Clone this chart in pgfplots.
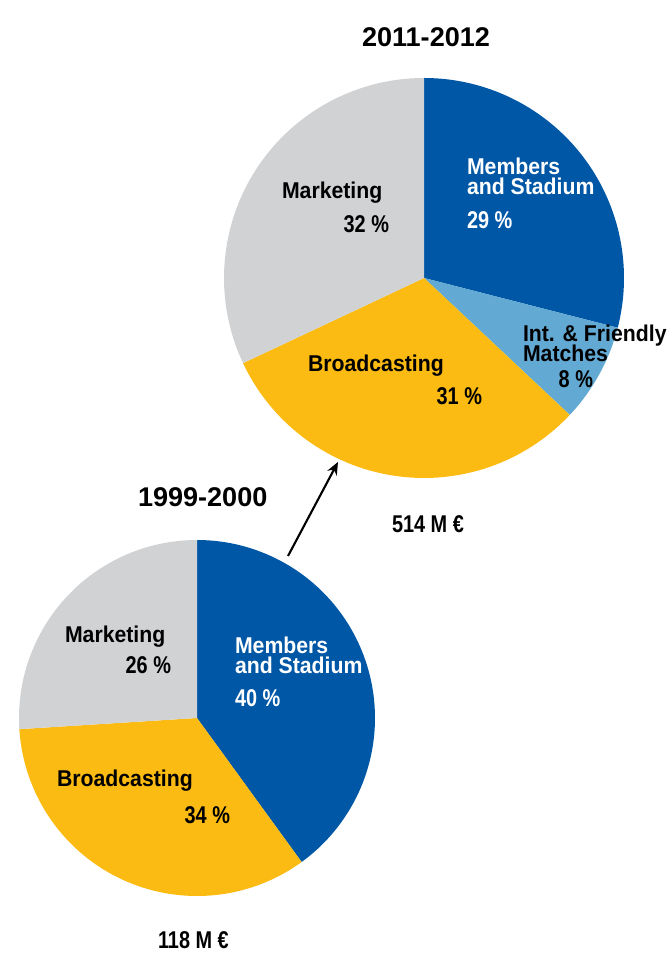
\documentclass[border=0pt]{standalone}
\usepackage{pgfplots}
\pgfplotsset{compat=1.18}
\usepackage{fontspec}
\setmainfont{Liberation Sans}
\newfontfamily\labfont{Liberation Sans}[FakeStretch=0.93]
\newfontfamily\pctfont{Liberation Sans}[FakeStretch=0.82]
\usetikzlibrary{arrows.meta}
\definecolor{dblue}{RGB}{0,87,166}
\definecolor{lblue}{RGB}{98,169,211}
\definecolor{yell}{RGB}{251,187,18}
\definecolor{grey}{RGB}{209,210,212}
% slice: color, cx, cy, r, start percent, percent
\newcommand{\pieslice}[6]{%
  \addplot[fill=#1, draw=none, domain={90-3.6*(#5+#6)}:{90-3.6*#5}, samples=90, variable=\t]
    ({#2+#4*cos(\t)},{#3+#4*sin(\t)}) -- (axis cs:#2,#3) -- cycle;}
\newcommand{\lab}{\labfont\fontsize{6.5pt}{5.7pt}\selectfont\bfseries}
\newcommand{\pct}{\pctfont\fontsize{6.9pt}{6pt}\selectfont\bfseries}
\newcommand{\ttl}{\fontsize{7.7pt}{7pt}\selectfont\bfseries}
\tikzset{t/.style={inner sep=0pt, outer sep=0pt}}
\begin{document}
\begin{tikzpicture}
\begin{axis}[
  width=6.69cm, height=9.55cm, scale only axis,
  xmin=0, xmax=669, ymin=0, ymax=955,
  hide axis, clip=false,
]
\path (rel axis cs:0,0) rectangle (rel axis cs:1,1);
% 2011-2012 (514 M EUR): Members 29, Int 8, Broadcasting 31, Marketing 32
\pieslice{dblue}{424}{677}{200}{0}{29}
\pieslice{lblue}{424}{677}{200}{29}{8}
\pieslice{yell}{424}{677}{200}{37}{31}
\pieslice{grey}{424}{677}{200}{68}{32}
% 1999-2000 (118 M EUR): Members 40, Broadcasting 34, Marketing 26
\pieslice{dblue}{197}{237}{178}{0}{40}
\pieslice{yell}{197}{237}{178}{40}{34}
\pieslice{grey}{197}{237}{178}{74}{26}
% arrow
\addplot[-{Stealth[length=3.6pt,width=3pt]}, line width=0.6pt, black] coordinates {(288,399) (338,493)};
% top labels
\node[t, anchor=base] at (axis cs:426,908) {\ttl 2011-2012};
\node[t, anchor=base west] at (axis cs:282,756) {\lab Marketing};
\node[t, anchor=base east] at (axis cs:389,722) {\pct 32 \%};
\node[t, anchor=base west, text=white] at (axis cs:467,780) {\lab Members};
\node[t, anchor=base west, text=white] at (axis cs:467,760) {\lab and Stadium};
\node[t, anchor=base west, text=white] at (axis cs:467,726) {\pct 29 \%};
\node[t, anchor=base west] at (axis cs:523,613) {\lab Int. \& Friendly};
\node[t, anchor=base west] at (axis cs:523,593) {\lab Matches};
\node[t, anchor=base east] at (axis cs:593,567) {\pct 8 \%};
\node[t, anchor=base west] at (axis cs:308,583) {\lab Broadcasting};
\node[t, anchor=base east] at (axis cs:482,550) {\pct 31 \%};
\node[t, anchor=base west] at (axis cs:392,422) {\pct 514 M €};
% bottom labels
\node[t, anchor=base west] at (axis cs:138,448) {\ttl 1999-2000};
\node[t, anchor=base west] at (axis cs:65,312) {\lab Marketing};
\node[t, anchor=base east] at (axis cs:171,281) {\pct 26 \%};
\node[t, anchor=base west, text=white] at (axis cs:235,301) {\lab Members};
\node[t, anchor=base west, text=white] at (axis cs:235,281) {\lab and Stadium};
\node[t, anchor=base west, text=white] at (axis cs:235,248) {\pct 40 \%};
\node[t, anchor=base west] at (axis cs:57,168) {\lab Broadcasting};
\node[t, anchor=base east] at (axis cs:230,131) {\pct 34 \%};
\node[t, anchor=base west] at (axis cs:158,7) {\pct 118 M €};
\end{axis}
\end{tikzpicture}
\end{document}
